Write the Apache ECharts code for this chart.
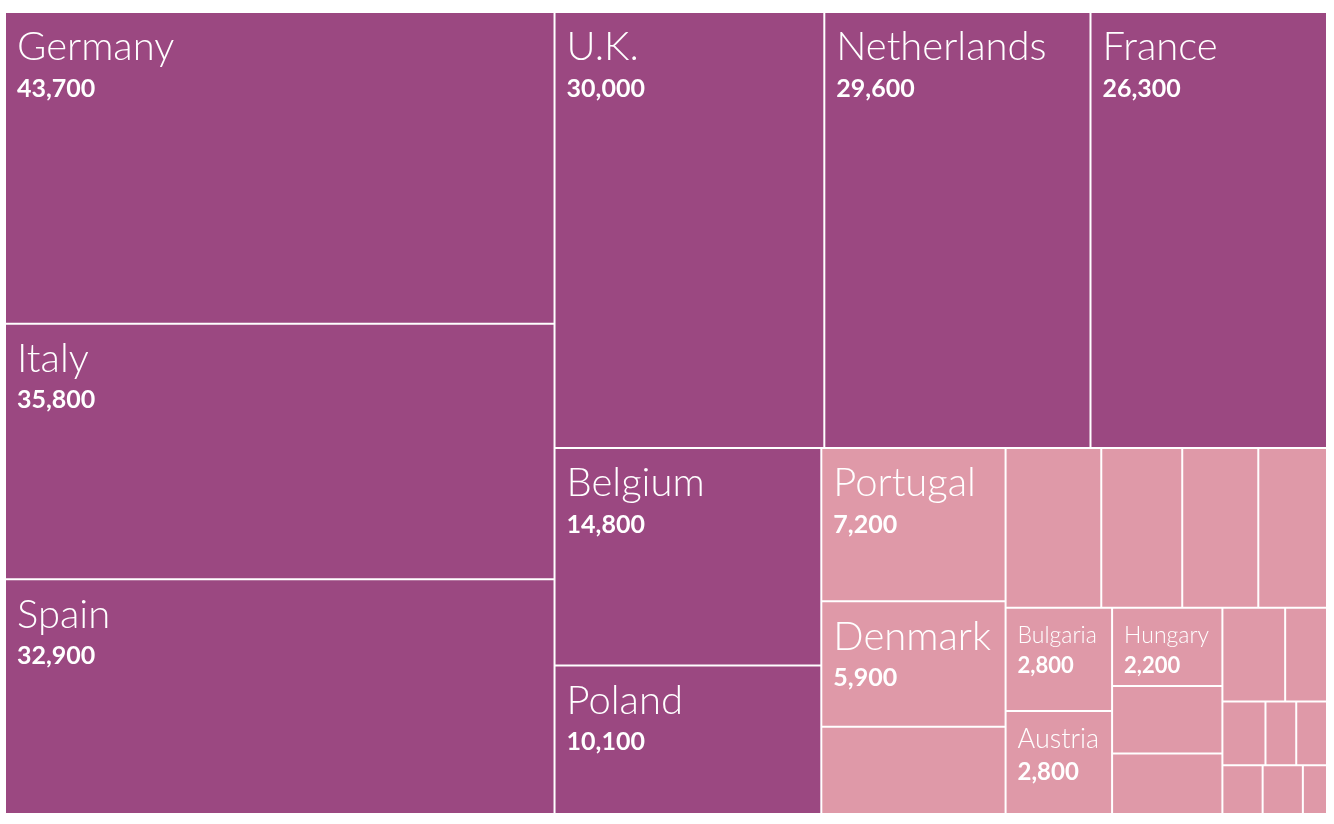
<!DOCTYPE html>
<html><head><meta charset="utf-8">
<script src="https://cdn.jsdelivr.net/npm/echarts@6/dist/echarts.min.js"></script>
<style>html,body{margin:0;padding:0;background:#fff}#c{width:1334px;height:824px}</style>
</head><body><div id="c"></div>
<script>
const countries = ['Germany','Italy','Spain','U.K.','Netherlands','France','Belgium','Poland','Portugal','Denmark','Sweden','Czech Republic','Ireland','Romania','Finland','Bulgaria','Austria','Hungary','Greece','Slovakia','Lithuania','Slovenia','Latvia','Luxembourg','Croatia','Estonia','Cyprus','Malta'];
const values = [43700,35800,32900,30000,29600,26300,14800,10100,7200,5900,4100,3900,3300,3100,2800,2800,2800,2200,1900,1700,1500,1000,700,500,500,500,500,300];
const hiddenLabels = ['Sweden','Czech Republic','Ireland','Romania','Finland','Greece','Slovakia','Lithuania','Slovenia','Latvia','Luxembourg','Croatia','Estonia','Cyprus','Malta'];
const largeThreshold = 10000;

const COLOR_LARGE = '#9b4881';
const COLOR_SMALL = '#df99a8';
const defaultLabel = {nameSize: 40, valueSize: 25, top: 11.5, l1: 46, l2: 36};
const labelOverrides = {
  Bulgaria: {nameSize: 23, valueSize: 22, top: 13, l1: 28, l2: 33},
  Hungary: {nameSize: 23, valueSize: 22, top: 13, l1: 28, l2: 33},
  Austria: {nameSize: 27, valueSize: 24, top: 11, l1: 32, l2: 35}
};
const fmt = v => v.toLocaleString('en-US');

function makeLabel(name) {
  if (hiddenLabels.includes(name)) return {show: false};
  const s = Object.assign({}, defaultLabel, labelOverrides[name] || {});
  return {
    show: true,
    position: [11, s.top],
    padding: 0,
    formatter: p => `{n|${p.name}}\n{v|${fmt(p.value)}}`,
    rich: {
      n: {fontFamily: 'Lato', fontWeight: 300, fontSize: s.nameSize, lineHeight: s.l1, color: '#fff'},
      v: {fontFamily: 'Lato', fontWeight: 'bold', fontSize: s.valueSize, lineHeight: s.l2, color: '#fff'}
    }
  };
}

const data = countries.map((name, i) => ({
  name,
  value: values[i],
  itemStyle: {color: values[i] >= largeThreshold ? COLOR_LARGE : COLOR_SMALL},
  label: makeLabel(name)
}));

const chart = echarts.init(document.getElementById('c'), null, {renderer: 'canvas'});
chart.setOption({
  animation: false,
  series: [{
    type: 'treemap',
    left: 6, top: 13, right: 8, bottom: 11,
    roam: false,
    nodeClick: false,
    sort: false,
    squareRatio: 0.5 * (1 + Math.sqrt(5)),
    breadcrumb: {show: false},
    itemStyle: {gapWidth: 2, borderWidth: 0, borderColor: '#fff'},
    levels: [{itemStyle: {gapWidth: 2, borderWidth: 0}}],
    emphasis: {disabled: true},
    data
  }]
});
</script></body></html>
